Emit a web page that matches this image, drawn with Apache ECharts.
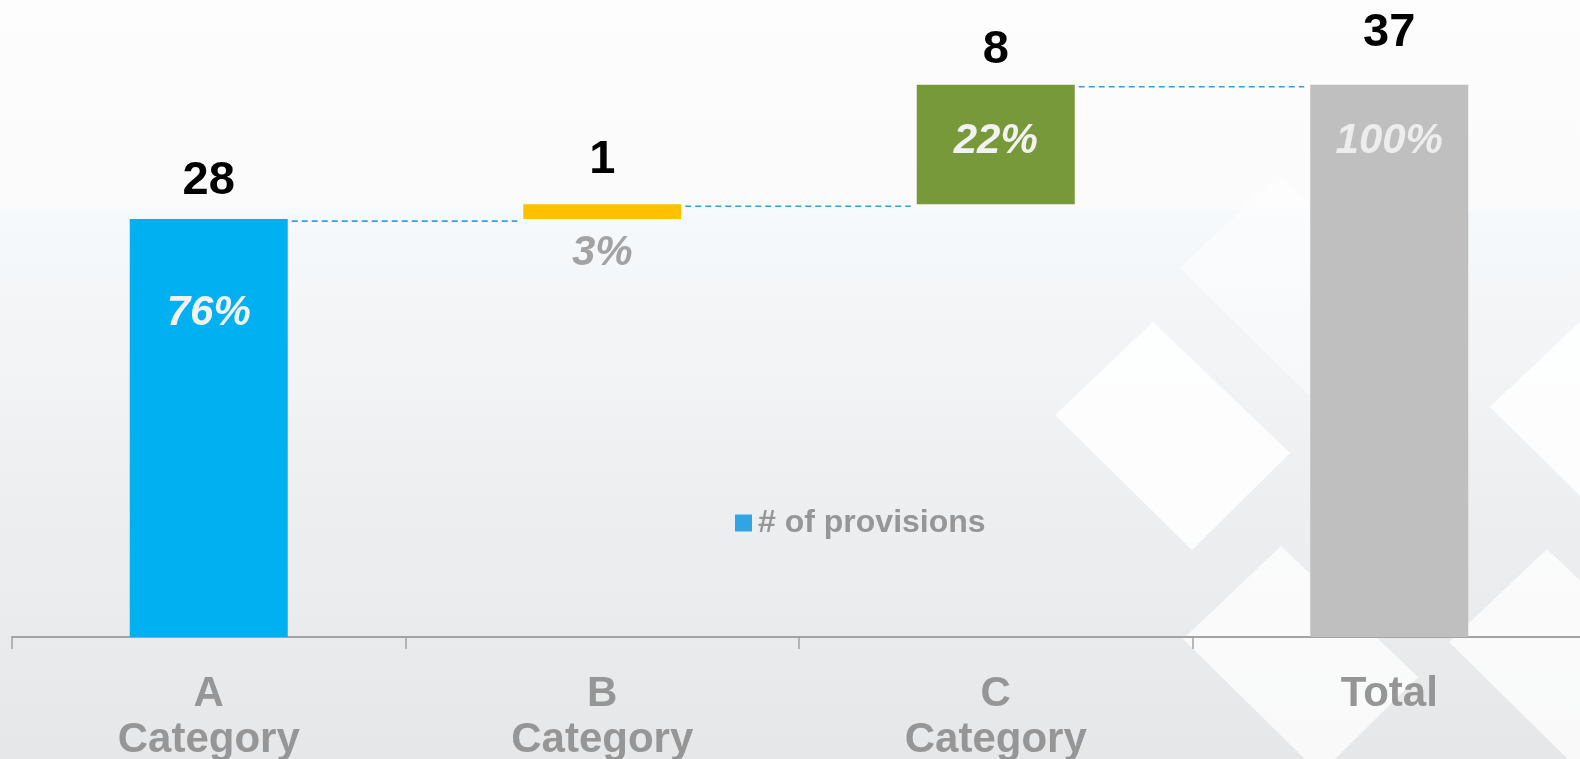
<!doctype html>
<html>
    <head>
        <meta charset="utf-8">
        <title>Provisions waterfall</title>
        <style>
            html, body { margin: 0; padding: 0; }
            #main { width: 1580px; height: 759px; }
        </style>
    </head>
    <body>
        <div id="main"></div>
        <script src="https://cdn.jsdelivr.net/npm/echarts@6/dist/echarts.min.js"></script>
        <script>
            var categories = ['A\nCategory', 'B\nCategory', 'C\nCategory', 'Total'];
            var values = [28, 1, 8, 37];
            var percents = ['76%', '3%', '22%', '100%'];
            var seriesName = '# of provisions';

            // bar i starts where the running sum ends; the total bar stands on 0
            var bases = values.map(function (v, i) {
                if (i === values.length - 1) return 0;
                var s = 0;
                for (var k = 0; k < i; k++) s += values[k];
                return s;
            });
            var tops = values.map(function (v, i) { return bases[i] + v; });

            var barColors = ['#00B0F0', '#FFC000', '#77993A', '#BFBFBF'];
            var pctColors = ['#F2F2F2', '#A3A3A3', '#F2F2F2', '#EDEDED'];
            // label offsets (px) from each bar top, as laid out in the slide
            var valueDy = [-38, -44, -35, -52];
            var pctDy = [94, 49, 57, 57];

            var FONT = '"Liberation Sans", Arial, sans-serif';
            var BAR_W = 158;

            var chart = echarts.init(document.getElementById('main'));

            // soft white diamonds in the slide background
            function diamond(cx, cy) {
                return [[cx - 117, cy - 21], [cx - 19, cy - 114], [cx + 118, cy + 17], [cx + 20, cy + 114]];
            }
            var diamonds = [
                { c: [1172, 436], o: 0.85 },
                { c: [1607, 428], o: 0.85 },
                { c: [1300, 660], o: 0.75 },
                { c: [1566, 663], o: 0.75 },
                { c: [1297, 289], o: 0.45 }
            ];
            var bgGraphics = [{
                type: 'rect',
                z: -20,
                silent: true,
                shape: { x: 0, y: 0, width: 1580, height: 759 },
                style: {
                    fill: new echarts.graphic.LinearGradient(0, 0, 0, 1, [
                        { offset: 0, color: '#FDFDFD' },
                        { offset: 0.27, color: '#FBFBFC' },
                        { offset: 0.28, color: '#F6F9FB' },
                        { offset: 0.6, color: '#EFF0F2' },
                        { offset: 1, color: '#E6E7E9' }
                    ])
                }
            }];
            diamonds.forEach(function (d) {
                bgGraphics.push({
                    type: 'polygon',
                    z: -19,
                    silent: true,
                    shape: { points: diamond(d.c[0], d.c[1]) },
                    style: { fill: '#FFFFFF', opacity: d.o }
                });
            });

            chart.setOption({
                animation: false,
                graphic: bgGraphics,
                legend: {
                    data: [seriesName],
                    left: 735,
                    top: 507,
                    padding: 0,
                    itemWidth: 17,
                    itemHeight: 17,
                    itemGap: 6,
                    icon: 'rect',
                    itemStyle: { color: '#30A5E6' },
                    textStyle: {
                        fontFamily: FONT,
                        fontSize: 32,
                        fontWeight: 'bold',
                        color: '#969696',
                        padding: [0, 0, 0, 1]
                    }
                },
                grid: {
                    left: 12,
                    width: 1574,
                    top: 40,
                    bottom: 122,
                    containLabel: false,
                    outerBoundsMode: 'none'
                },
                xAxis: {
                    type: 'category',
                    data: categories,
                    axisLine: { show: true, lineStyle: { color: '#A3A3A3', width: 2 } },
                    axisTick: { show: true, length: 12, lineStyle: { color: '#A3A3A3', width: 1.5 } },
                    axisLabel: {
                        margin: 34,
                        fontFamily: FONT,
                        fontSize: 42,
                        fontWeight: 'bold',
                        lineHeight: 46,
                        color: '#969696'
                    }
                },
                yAxis: {
                    type: 'value',
                    min: 0,
                    max: 40,
                    show: false,
                    splitLine: { show: false }
                },
                series: [{
                    name: 'base',
                    type: 'bar',
                    stack: 'wf',
                    barWidth: BAR_W,
                    silent: true,
                    itemStyle: { color: 'transparent' },
                    data: bases
                }, {
                    name: seriesName,
                    type: 'bar',
                    stack: 'wf',
                    barWidth: BAR_W,
                    itemStyle: { color: '#30A5E6' },
                    data: values.map(function (v, i) {
                        return { value: v, itemStyle: { color: barColors[i] } };
                    })
                }, {
                    name: 'labels',
                    type: 'custom',
                    silent: true,
                    z: 5,
                    data: tops.map(function (t, i) { return [i, t]; }),
                    renderItem: function (params, api) {
                        var i = params.dataIndex;
                        var p = api.coord([api.value(0), api.value(1)]);
                        return {
                            type: 'group',
                            children: [{
                                type: 'text',
                                x: p[0],
                                y: p[1] + valueDy[i],
                                style: {
                                    text: String(values[i]),
                                    fill: '#000000',
                                    font: 'bold 47px ' + FONT,
                                    align: 'center',
                                    verticalAlign: 'middle'
                                }
                            }, {
                                type: 'text',
                                x: p[0],
                                y: p[1] + pctDy[i],
                                style: {
                                    text: percents[i],
                                    fill: pctColors[i],
                                    font: 'italic bold 42px ' + FONT,
                                    align: 'center',
                                    verticalAlign: 'middle'
                                }
                            }]
                        };
                    }
                }, {
                    name: 'connectors',
                    type: 'custom',
                    silent: true,
                    z: 4,
                    data: tops.slice(0, tops.length - 1).map(function (t, i) { return [i, t]; }),
                    renderItem: function (params, api) {
                        var p = api.coord([api.value(0), api.value(1)]);
                        var step = api.size([1, 0])[0];
                        return {
                            type: 'line',
                            shape: {
                                x1: p[0] + BAR_W / 2 + 4,
                                y1: p[1] + 2,
                                x2: p[0] + step - BAR_W / 2 - 6,
                                y2: p[1] + 2
                            },
                            style: {
                                stroke: '#33A0E2',
                                lineWidth: 1.6,
                                lineDash: [6, 4]
                            }
                        };
                    }
                }]
            });

            window.addEventListener('resize', function () {
                chart.resize();
            });
        </script>
    </body>
</html>
